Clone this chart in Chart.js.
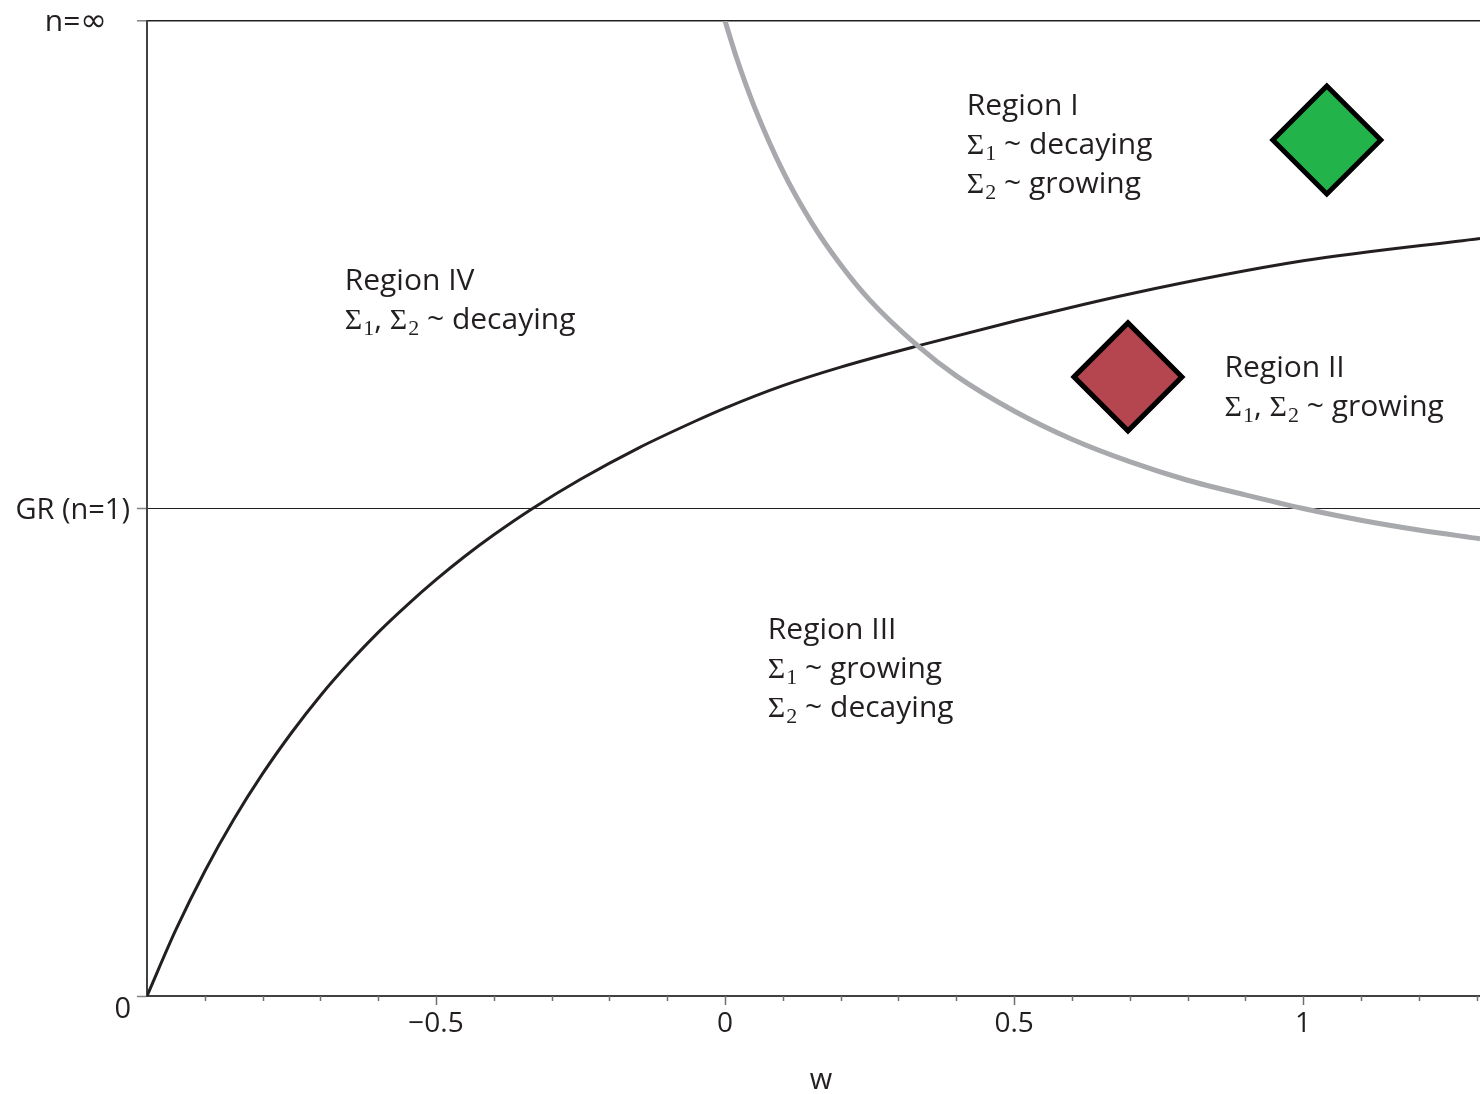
<!DOCTYPE html>
<html>
<head>
<meta charset="utf-8">
<script src="https://cdn.jsdelivr.net/npm/chart.js@4.4.1/dist/chart.umd.min.js"></script>
<style>
  html, body { margin: 0; padding: 0; background: #fff; }
  canvas { display: block; }
</style>
</head>
<body>
<canvas id="chart" width="1480" height="1094"></canvas>
<script>
// black boundary curve
const blackW = [-1, -0.95, -0.9, -0.85, -0.8, -0.75, -0.7, -0.65, -0.6, -0.55, -0.5, -0.45, -0.4, -0.333, -0.25, -0.15, -0.05, 0, 0.1, 0.2, 0.335, 0.5, 0.7, 1.0, 1.306];
const blackY = [0, 0.068, 0.128, 0.181, 0.228, 0.270, 0.308, 0.342, 0.373, 0.401, 0.427, 0.451, 0.473, 0.500, 0.530, 0.562, 0.590, 0.603, 0.626, 0.645, 0.667, 0.692, 0.720, 0.754, 0.777];

// grey boundary curve
const greyW = [0, 0.02, 0.05, 0.1, 0.15, 0.2, 0.25, 0.335, 0.4, 0.5, 0.6, 0.7, 0.8, 0.9, 1.0, 1.1, 1.2, 1.306];
const greyY = [1.0, 0.962, 0.913, 0.846, 0.793, 0.750, 0.714, 0.666, 0.636, 0.600, 0.571, 0.548, 0.529, 0.514, 0.500, 0.488, 0.478, 0.469];

// the two diamonds
const markerW = [1.041, 0.697];
const markerY = [0.878, 0.635];
const markerColors = ['#23b34b', '#b5464f'];

const xMajorTicks = [-0.5, 0, 0.5, 1];
const xMajorLabels = ['\u22120.5', '0', '0.5', '1'];
const xMinorTicks = [-0.9, -0.8, -0.7, -0.6, -0.4, -0.3, -0.2, -0.1, 0.1, 0.2, 0.3, 0.4, 0.6, 0.7, 0.8, 0.9, 1.1, 1.2, 1.3];
const yTicks = [0, 0.5, 1];
const yLabels = ['0', 'GR (n=1)', 'n=\u221e'];

const regionTexts = [
  ['Region I', 'Σ_1 ~ decaying', 'Σ_2 ~ growing'],
  ['Region II', 'Σ_1, Σ_2 ~ growing'],
  ['Region III', 'Σ_1 ~ growing', 'Σ_2 ~ decaying'],
  ['Region IV', 'Σ_1, Σ_2 ~ decaying']
];
// where each block starts (data units, first baseline)
const regionAt = [[0.418, 0.9036], [0.864, 0.6349], [0.074, 0.3662], [-0.658, 0.7241]];

const ink = '#231f20';
const sans = '"Open Sans", "DejaVu Sans", sans-serif';
const serif = '"Liberation Serif", "DejaVu Serif", serif';

function drawRich(ctx, text, x, y) {
  let cx = x;
  text.split(/(Σ_\d|∞)/).forEach(p => {
    if (!p) return;
    if (p.startsWith('Σ_')) {
      ctx.font = '30px ' + serif;
      ctx.fillText('Σ', cx, y);
      cx += ctx.measureText('Σ').width + 1;
      ctx.font = '22px ' + serif;
      ctx.fillText(p[2], cx, y + 6);
      cx += ctx.measureText(p[2]).width;
    } else if (p === '∞') {
      ctx.font = '32px "DejaVu Sans"';
      ctx.fillText(p, cx, y);
      cx += ctx.measureText(p).width;
    } else {
      ctx.font = '30px ' + sans;
      ctx.fillText(p, cx, y);
      cx += ctx.measureText(p).width;
    }
  });
  return cx - x;
}

const decor = {
  id: 'decor',
  afterDraw(chart) {
    const { ctx, scales: { x, y }, chartArea } = chart;
    ctx.save();

    // x tick marks
    ctx.strokeStyle = '#6d6e71';
    ctx.lineWidth = 1.5;
    xMinorTicks.forEach(v => {
      const px = Math.round(x.getPixelForValue(v)) + 0.5;
      ctx.beginPath(); ctx.moveTo(px, chartArea.bottom); ctx.lineTo(px, chartArea.bottom + 5); ctx.stroke();
    });
    xMajorTicks.forEach(v => {
      const px = Math.round(x.getPixelForValue(v)) + 0.5;
      ctx.beginPath(); ctx.moveTo(px, chartArea.bottom); ctx.lineTo(px, chartArea.bottom + 9); ctx.stroke();
    });

    // y labels
    ctx.fillStyle = ink;
    ctx.font = '29px ' + sans;
    ctx.textAlign = 'right';
    ctx.textBaseline = 'middle';
    ctx.fillText(yLabels[0], 131, y.getPixelForValue(yTicks[0]) + 14);
    ctx.fillText(yLabels[1], 130, y.getPixelForValue(yTicks[1]) + 2);
    ctx.textAlign = 'left';
    ctx.textBaseline = 'alphabetic';
    ctx.fillText(yLabels[2], 42, y.getPixelForValue(yTicks[2]) + 10);
    // measure width first so the label ends where it should
    ctx.save();
    ctx.globalAlpha = 0;
    const wInf = drawRich(ctx, yLabels[2], 0, -100);
    ctx.restore();
    ctx.fillStyle = '#fff';
    ctx.fillRect(0, 0, 137, 40);
    ctx.fillStyle = ink;
    drawRich(ctx, yLabels[2], 107 - wInf, y.getPixelForValue(yTicks[2]) + 10);

    // axis title
    ctx.font = '29px ' + sans;
    ctx.textAlign = 'center';
    ctx.textBaseline = 'middle';
    ctx.fillText('w', 821, 1081);

    // region annotations
    ctx.textAlign = 'left';
    ctx.textBaseline = 'alphabetic';
    regionTexts.forEach((lines, i) => {
      const px = x.getPixelForValue(regionAt[i][0]);
      const py = y.getPixelForValue(regionAt[i][1]);
      lines.forEach((t, j) => drawRich(ctx, t, px, py + j * 39));
    });
    ctx.restore();
  }
};

new Chart(document.getElementById('chart'), {
  type: 'line',
  data: {
    datasets: [
      {
        type: 'scatter',
        data: markerW.map((w, i) => ({ x: w, y: markerY[i] })),
        pointStyle: 'rectRot',
        pointRadius: 54,
        pointBackgroundColor: markerColors,
        pointBorderColor: '#000',
        pointBorderWidth: 5,
        order: 0
      },
      {
        data: greyW.map((w, i) => ({ x: w, y: greyY[i] })),
        borderColor: '#a7a9ac',
        borderWidth: 5,
        pointRadius: 0,
        cubicInterpolationMode: 'monotone',
        order: 1
      },
      {
        data: blackW.map((w, i) => ({ x: w, y: blackY[i] })),
        borderColor: ink,
        borderWidth: 3,
        pointRadius: 0,
        cubicInterpolationMode: 'monotone',
        order: 2
      }
    ]
  },
  options: {
    responsive: false,
    animation: false,
    devicePixelRatio: 1,
    layout: { autoPadding: false, padding: { top: 21, right: 0, left: 0, bottom: 0 } },
    plugins: { legend: { display: false }, tooltip: { enabled: false } },
    scales: {
      x: {
        type: 'linear',
        min: -1,
        max: 1.306,
        afterFit(scale) {
          scale.height = 98;
          scale.paddingLeft = 0;
          scale.paddingRight = 0;
        },
        afterBuildTicks(scale) {
          scale.ticks = xMinorTicks.concat(xMajorTicks).sort((a, b) => a - b).map(v => ({ value: v }));
        },
        grid: { display: false, drawTicks: false },
        border: { display: true, color: '#414042', width: 2 },
        ticks: {
          padding: 11,
          maxRotation: 0,
          autoSkip: false,
          color: ink,
          font: { family: sans, size: 28 },
          callback(v) {
            const k = xMajorTicks.findIndex(t => Math.abs(t - v) < 1e-9);
            return k >= 0 ? xMajorLabels[k] : '';
          }
        }
      },
      y: {
        min: 0,
        max: 1,
        afterFit(scale) {
          scale.width = 147;
          scale.paddingTop = 0;
          scale.paddingBottom = 0;
        },
        afterBuildTicks(scale) { scale.ticks = yTicks.map(v => ({ value: v })); },
        ticks: { display: false },
        grid: {
          color: ink,
          lineWidth: c => (c.tick && c.tick.value === 1 ? 1.6 : 1),
          tickLength: 10,
          tickColor: '#808285',
          tickWidth: 1.5
        },
        border: { display: true, color: '#414042', width: 2 }
      }
    }
  },
  plugins: [decor]
});
</script>
</body>
</html>
